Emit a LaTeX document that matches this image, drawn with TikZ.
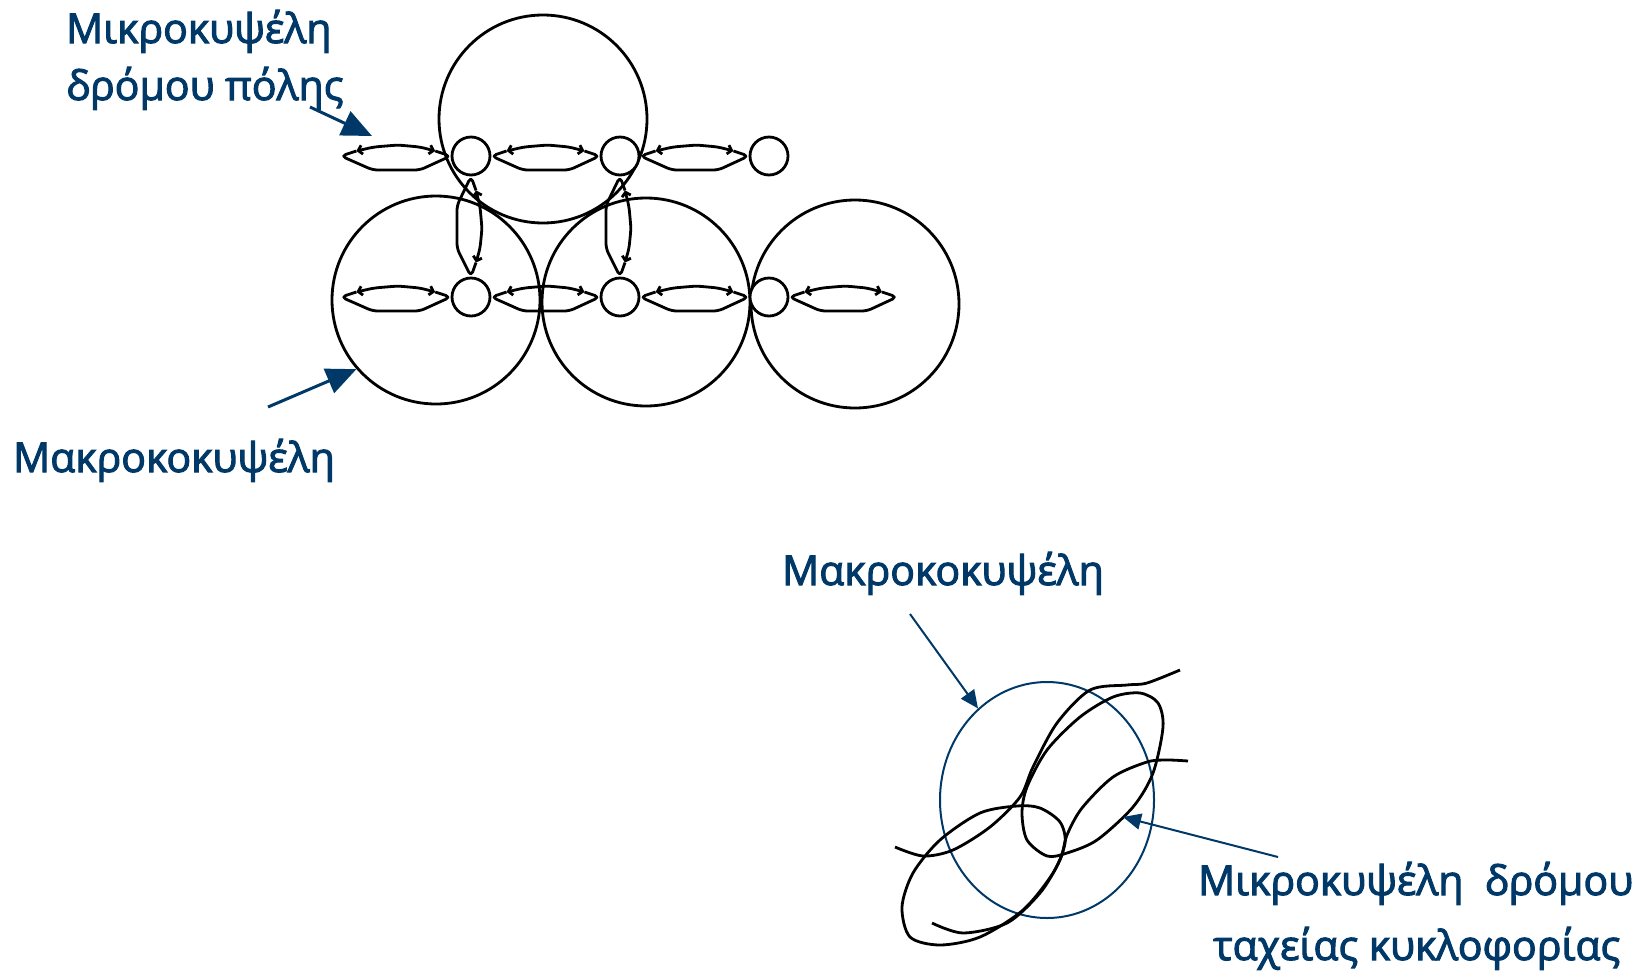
\documentclass[tikz,border=0pt]{standalone}
\usepackage{fontspec}
\setmainfont{Open Sans}
\newfontfamily\tagfont[FakeBold=2.5]{Open Sans}
\usetikzlibrary{calc,arrows.meta,positioning,shapes.geometric}
\definecolor{cellblue}{RGB}{0,56,104}

% one road lens between two points (upper side has the little barbs)
\newcommand{\roadlens}[2]{%
  \draw[lensline] ($(#1)!0.86!(#2)!5pt!90:(#2)$) -- (#2)
    -- ($(#1)!0.72!(#2)!14pt!-90:(#2)$) -- ($(#1)!0.29!(#2)!14pt!-90:(#2)$)
    -- (#1) -- ($(#1)!0.14!(#2)!5pt!90:(#2)$);
  \draw[lensline, {Straight Barb[length=4pt,width=9pt]}-{Straight Barb[length=4pt,width=9pt]}]
    ($(#1)!0.14!(#2)!5pt!90:(#2)$) -- ($(#1)!0.3!(#2)!9pt!90:(#2)$)
    -- ($(#1)!0.52!(#2)!11pt!90:(#2)$) -- ($(#1)!0.72!(#2)!9pt!90:(#2)$)
    -- ($(#1)!0.86!(#2)!5pt!90:(#2)$);
}

\begin{document}
\begin{tikzpicture}[x=1pt, y=-1pt,
    micro/.style={draw, circle, fill=white, minimum size=38pt, inner sep=0pt, line width=2.8pt},
    macro/.style={draw, circle, minimum size=208pt, inner sep=0pt, line width=2.8pt},
    lensline/.style={line width=2.8pt, line join=round, rounded corners=5pt},
    tag/.style={text=cellblue, font=\tagfont\fontsize{41}{50}\selectfont, inner sep=0pt, anchor=base west},
    bigarrow/.style={draw=cellblue, line width=3pt, -{Triangle[length=30pt,width=26pt]}},
    thinarrow/.style={draw=cellblue, line width=2pt, -{Triangle[length=18pt,width=16pt]}},
    road/.style={line width=2.8pt}]
    \useasboundingbox (0,0) rectangle (1646,970);

    % Macro cells (city)
    \node [macro] (cellA) at (543,119) {};
    \node [macro] (cellB) at (436,300) {};
    \node [macro] (cellC) at (646,302) {};
    \node [macro] (cellD) at (855,304) {};

    % Micro cells (city streets)
    \node [micro] (u1) at (471,156) {};
    \node [micro] (u2) at (620,156) {};
    \node [micro] (u3) at (769,156) {};
    \node [micro] (d1) at (471,297) {};
    \node [micro] (d2) at (620,297) {};
    \node [micro] (d3) at (769,297) {};
    \coordinate (endW1) at (341,156);
    \coordinate (endW2) at (341,297);
    \coordinate (endE) at (897,297);

    % Street lenses
    \roadlens{endW1}{u1.west}
    \roadlens{u1.east}{u2.west}
    \roadlens{u2.east}{u3.west}
    \roadlens{endW2}{d1.west}
    \roadlens{d1.east}{d2.west}
    \roadlens{d2.east}{d3.west}
    \roadlens{d3.east}{endE}
    \roadlens{u1.south}{d1.north}
    \roadlens{u2.south}{d2.north}

    % Labels (city)
    \node [tag] (lblcityA) at (66,43) {Μικροκυψέλη};
    \node [tag] (lblcityB) at (66,100) {δρόμου πόλης};
    \node [tag] (lblmacroA) at (13,472) {Μακροκοκυψέλη};
    \coordinate (cityTail) at (310,107);
    \coordinate (cityTip) at (372,136);
    \coordinate (macroTail) at (268,407);
    \draw [bigarrow] (cityTail) -- (cityTip);
    \draw [bigarrow] (macroTail) -- (cellB.221);

    % Highway part
    \node [draw=cellblue, line width=2pt, ellipse, minimum width=214pt, minimum height=236pt, inner sep=0pt] (bigcell) at (1047,800) {};
    \draw [road] plot [smooth] coordinates {(895,847) (923,856) (953,850) (990,827) (1020,797) (1033,767) (1057,723) (1090,690) (1127,685) (1147,683) (1180,670)};
    \draw [road] plot [smooth] coordinates {(932,923) (963,933) (1007,923) (1040,893) (1060,860) (1067,835) (1082,808) (1113,777) (1147,762) (1167,760) (1188,761)};
    \draw [road] plot [smooth cycle] coordinates {(902,907) (913,873) (940,840) (980,813) (1017,806) (1040,808) (1060,822) (1065,843) (1053,873) (1023,910) (980,937) (940,945) (910,937)};
    \draw [road] plot [smooth cycle] coordinates {(1022,813) (1027,840) (1047,856) (1067,853) (1097,840) (1133,807) (1153,773) (1163,727) (1158,703) (1140,693) (1113,697) (1080,717) (1047,750) (1027,787)};

    % Labels (highway)
    \node [tag] (lblmacroB) at (782,585) {Μακροκοκυψέλη};
    \node [tag] (lblhwA) at (1198,895) {Μικροκυψέλη\ \ δρόμου};
    \node [tag] (lblhwB) at (1213,960) {ταχείας κυκλοφορίας};
    \coordinate (bigTail) at (910,614);
    \coordinate (hwTail) at (1278,857);
    \coordinate (hwTip) at (1123,817);
    \draw [thinarrow] (bigTail) -- (bigcell.127);
    \draw [thinarrow] (hwTail) -- (hwTip);
\end{tikzpicture}
\end{document}
